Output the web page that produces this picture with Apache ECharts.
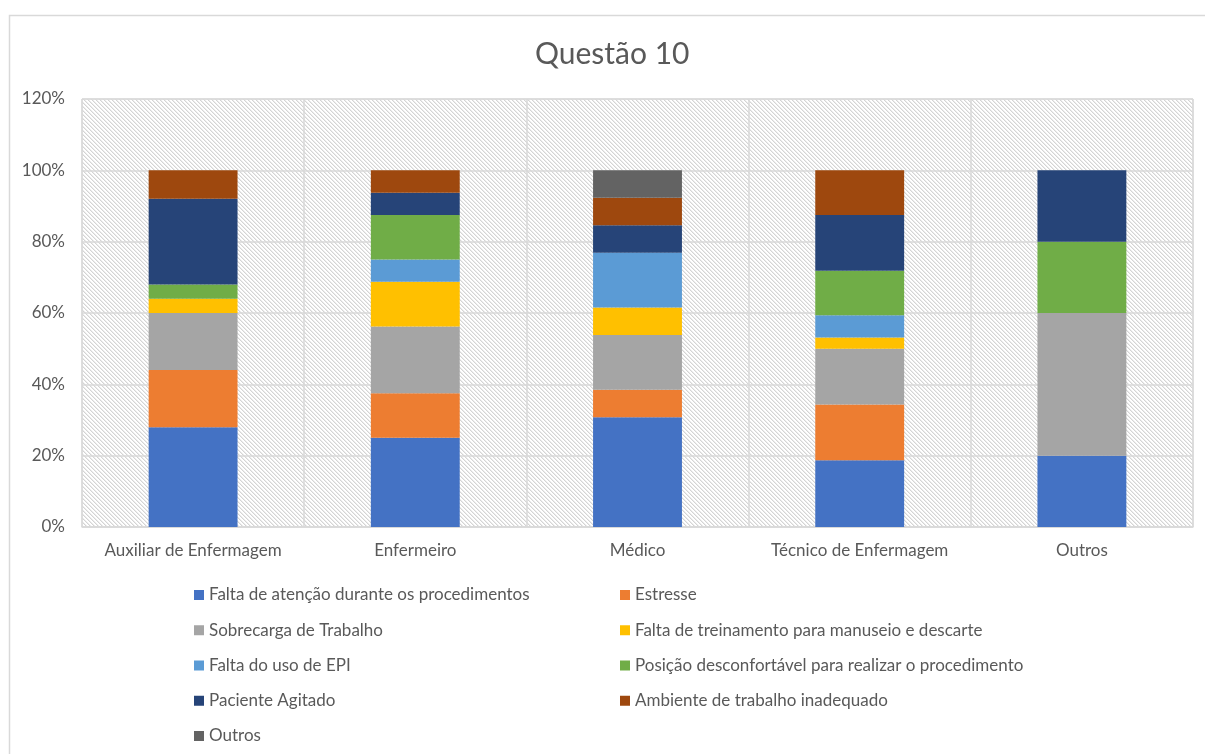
<!DOCTYPE html>
<html>
<head>
<meta charset="utf-8">
<title>Questão 10</title>
<script src="https://cdn.jsdelivr.net/npm/echarts@6/dist/echarts.min.js"></script>
<style>
  html, body { margin: 0; padding: 0; background: #ffffff; }
  #chart { width: 1205px; height: 754px; }
</style>
</head>
<body>
<div id="chart"></div>
<script>
// Professional categories on the x axis
const categories = ['Auxiliar de Enfermagem', 'Enfermeiro', 'Médico', 'Técnico de Enfermagem', 'Outros'];

// Share (%) of answers per cause, one value per category
const faltaAtencao = [28, 25, 30.77, 18.75, 20];
const estresse = [16, 12.5, 7.69, 15.625, 0];
const sobrecarga = [16, 18.75, 15.38, 15.625, 40];
const treinamento = [4, 12.5, 7.69, 3.125, 0];
const usoEpi = [0, 6.25, 15.38, 6.25, 0];
const posicao = [4, 12.5, 0, 12.5, 20];
const pacienteAgitado = [24, 6.25, 7.69, 15.625, 20];
const ambiente = [8, 6.25, 7.69, 12.5, 0];
const outros = [0, 0, 7.71, 0, 0];

const seriesNames = [
  'Falta de atenção durante os procedimentos',
  'Estresse',
  'Sobrecarga de Trabalho',
  'Falta de treinamento para manuseio e descarte',
  'Falta do uso de EPI',
  'Posição desconfortável para realizar o procedimento',
  'Paciente Agitado',
  'Ambiente de trabalho inadequado',
  'Outros'
];
const seriesValues = [faltaAtencao, estresse, sobrecarga, treinamento, usoEpi, posicao, pacienteAgitado, ambiente, outros];
const seriesColors = ['#4472C4', '#ED7D31', '#A5A5A5', '#FFC000', '#5B9BD5', '#70AD47', '#264478', '#9E480E', '#636363'];

// y-axis tick settings
const yMin = 0, yMax = 120, yStep = 20;

// Diagonal hatch used as the plot-area fill
function hatchPattern() {
  const c = document.createElement('canvas');
  c.width = 8; c.height = 8;
  const ctx = c.getContext('2d');
  ctx.fillStyle = '#ffffff';
  ctx.fillRect(0, 0, 8, 8);
  for (let x = 0; x < 8; x++) {
    for (let y = 0; y < 8; y++) {
      const d = ((x - y) % 4 + 4) % 4;
      if (d === 0) { ctx.fillStyle = '#d4d4d4'; ctx.fillRect(x, y, 1, 1); }
      else if (d === 1) { ctx.fillStyle = '#ececec'; ctx.fillRect(x, y, 1, 1); }
    }
  }
  return c;
}

const FONT = 'Lato, "Open Sans", sans-serif';
const TEXT = '#595959';
const LINE = '#d9d9d9';
const FS = 17;

const chart = echarts.init(document.getElementById('chart'), null, { renderer: 'canvas' });

const legendStyle = {
  orient: 'vertical',
  top: 580,
  itemWidth: 10, itemHeight: 10, itemGap: 15.25,
  icon: 'rect',
  textStyle: { fontFamily: FONT, fontSize: FS, color: TEXT, lineHeight: 20 }
};

chart.setOption({
  animation: false,
  backgroundColor: '#ffffff',
  title: {
    text: 'Questão 10',
    left: 530,
    top: 34,
    textStyle: { fontFamily: FONT, fontSize: 30, fontWeight: 'normal', color: TEXT }
  },
  graphic: [{
    type: 'rect',
    z: -1,
    silent: true,
    shape: { x: 9.5, y: 15.5, width: 1210, height: 800 },
    style: { fill: 'none', stroke: LINE, lineWidth: 1.5 }
  }],
  grid: {
    left: 82, right: 12, top: 99, bottom: 227,
    show: true,
    backgroundColor: { image: hatchPattern(), repeat: 'repeat' },
    borderColor: LINE, borderWidth: 1
  },
  legend: [
    Object.assign({}, legendStyle, {
      left: 189,
      data: [seriesNames[0], seriesNames[2], seriesNames[4], seriesNames[6], seriesNames[8]]
    }),
    Object.assign({}, legendStyle, {
      left: 615,
      data: [seriesNames[1], seriesNames[3], seriesNames[5], seriesNames[7]]
    })
  ],
  xAxis: {
    type: 'category',
    data: categories,
    axisLine: { lineStyle: { color: LINE, width: 1.5 } },
    axisTick: { show: false },
    splitLine: { show: true, interval: 0, lineStyle: { color: LINE, width: 1.5 } },
    axisLabel: { interval: 0, fontFamily: FONT, fontSize: FS, color: TEXT, margin: 15 }
  },
  yAxis: {
    type: 'value',
    min: yMin, max: yMax, interval: yStep,
    axisLine: { show: false },
    axisTick: { show: false },
    splitLine: { lineStyle: { color: LINE, width: 1.5 } },
    axisLabel: { fontFamily: FONT, fontSize: FS, color: TEXT, margin: 17, formatter: '{value}%' }
  },
  series: seriesNames.map((name, i) => ({
    name: name,
    type: 'bar',
    stack: 'total',
    barWidth: '40%',
    data: seriesValues[i],
    itemStyle: { color: seriesColors[i] }
  }))
});
</script>
</body>
</html>
